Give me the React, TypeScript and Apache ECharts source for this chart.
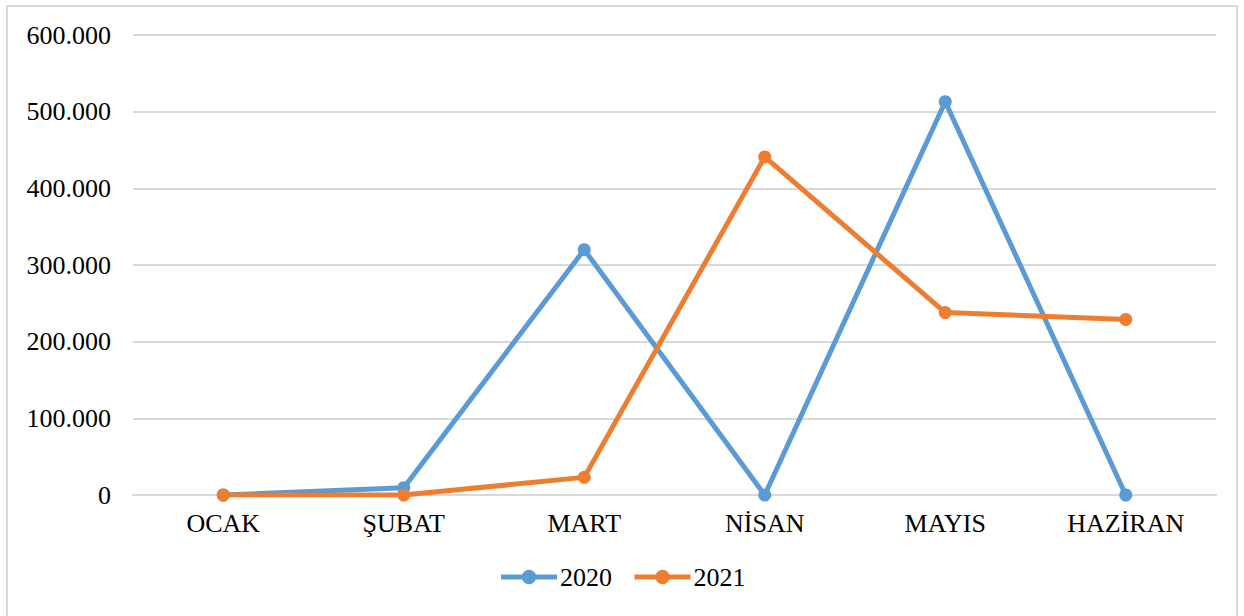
import React, { useEffect, useRef } from "react";
import * as echarts from "echarts";

const categories = ["OCAK", "ŞUBAT", "MART", "NİSAN", "MAYIS", "HAZİRAN"];
const series2020 = [0, 9500, 320000, 0, 513000, 0];
const series2021 = [0, 0, 23000, 441000, 238000, 229000];
const yMin = 0;
const yMax = 600000;
const yInterval = 100000;

const fmt = (v: number) => String(Math.round(v)).replace(/\B(?=(\d{3})+(?!\d))/g, ".");

export default function App() {
  const ref = useRef<HTMLDivElement>(null);
  useEffect(() => {
    document.body.style.margin = "0";
    const chart = echarts.init(ref.current!, null, { renderer: "svg" });
    const font = "Liberation Serif";
    chart.setOption({
      animation: false,
      backgroundColor: "#ffffff",
      textStyle: { fontFamily: font },
      grid: { left: 133, right: 28, top: 35, bottom: 121, containLabel: false },
      legend: {
        bottom: 21,
        left: "center",
        itemWidth: 56,
        itemHeight: 18,
        itemGap: 20,
        lineStyle: { width: 5 },
        textStyle: { fontFamily: font, fontSize: 26, color: "#000", padding: [0, 0, 0, -2] },
        data: ["2020", "2021"],
      },
      xAxis: {
        type: "category",
        data: categories,
        boundaryGap: true,
        axisLine: { lineStyle: { color: "#d9d9d9", width: 2 } },
        axisTick: { show: false },
        axisLabel: { fontFamily: font, fontSize: 26, color: "#000", margin: 15 },
      },
      yAxis: {
        type: "value",
        min: yMin,
        max: yMax,
        interval: yInterval,
        axisLine: { show: false },
        axisTick: { show: false },
        splitLine: { lineStyle: { color: "#d9d9d9", width: 2 } },
        axisLabel: { fontFamily: font, fontSize: 26, color: "#000", margin: 22, formatter: fmt },
      },
      series: [
        {
          name: "2020",
          type: "line",
          data: series2020,
          color: "#5B9BD5",
          lineStyle: { width: 5, color: "#5B9BD5" },
          itemStyle: { color: "#5B9BD5" },
          symbol: "circle",
          symbolSize: 13,
        },
        {
          name: "2021",
          type: "line",
          data: series2021,
          color: "#ED7D31",
          lineStyle: { width: 5, color: "#ED7D31" },
          itemStyle: { color: "#ED7D31" },
          symbol: "circle",
          symbolSize: 13,
        },
      ],
    });
    return () => chart.dispose();
  }, []);
  return (
    <div style={{ position: "relative", width: 1244, height: 616, background: "#fff" }}>
      <div
        style={{
          position: "absolute",
          left: 6,
          top: 5,
          width: 1232,
          height: 620,
          border: "2px solid #d9d9d9",
          boxSizing: "border-box",
          pointerEvents: "none",
          zIndex: 2,
        }}
      />
      <div ref={ref} style={{ width: 1244, height: 616 }} />
    </div>
  );
}
